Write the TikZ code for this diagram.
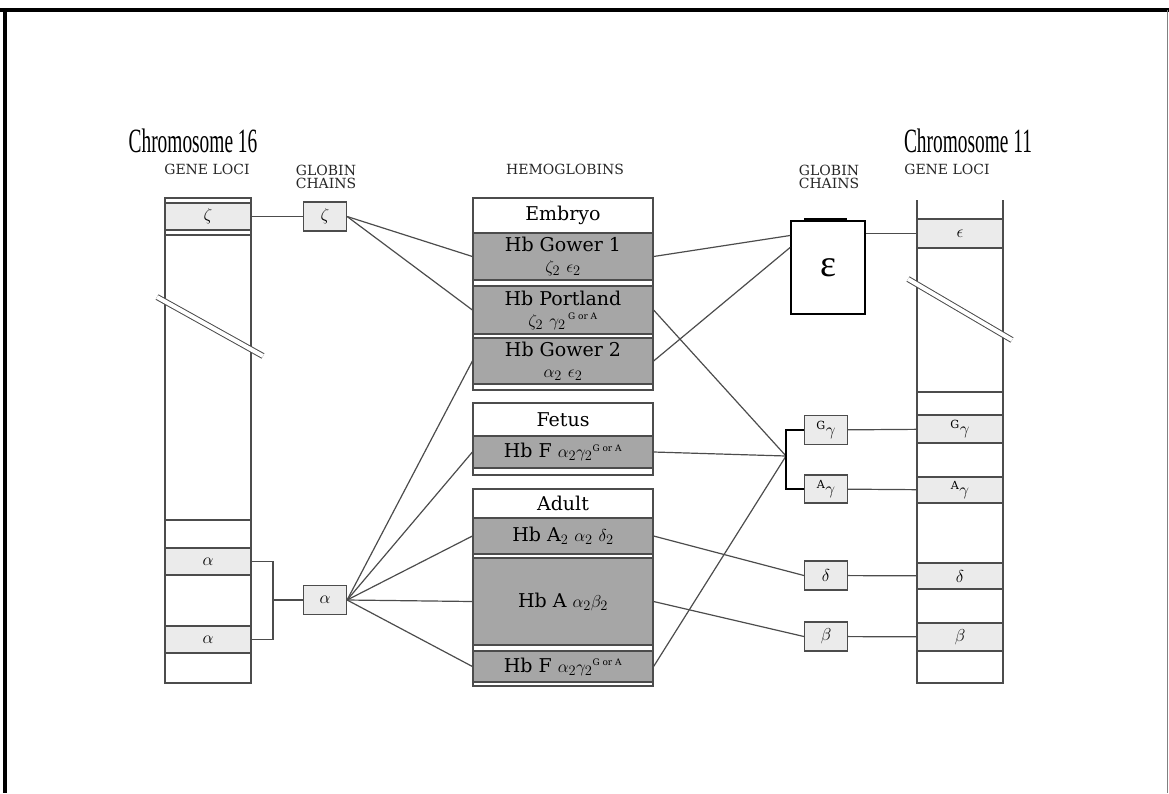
\documentclass[tikz,border=0pt]{standalone}
\usepackage{fontspec}
\setmainfont{DejaVu Serif}
\newfontfamily\chromfont{Liberation Serif}
\usepackage{tikz}
\newcommand{\gora}{\mbox{\fontsize{9}{9}\selectfont G or A}}

\begin{document}
\begin{tikzpicture}[x=1pt,y=-1pt,
    ln/.style={draw=black!70,line width=1.2pt},
    locus/.style={ln,fill=black!8,minimum width=86,minimum height=27,inner sep=0pt,font=\fontsize{16}{18}\selectfont},
    chain/.style={ln,fill=black!8,minimum width=43,minimum height=29,inner sep=0pt,font=\fontsize{16}{18}\selectfont},
    hb/.style={ln,fill=black!35,minimum width=180,inner sep=0pt,align=center,font=\fontsize{19}{21}\selectfont},
    head/.style={ln,fill=white,minimum width=180,inner sep=0pt,font=\fontsize{19}{21}\selectfont},
    lbl/.style={font=\fontsize{14}{13}\selectfont,align=center,text=black!85},
    brk/.style={draw=black!70,line width=1pt,double=white,double distance=4pt},
    chrom/.style={font=\chromfont\fontsize{34}{36}\selectfont,xscale=0.57}]
  \useasboundingbox (0,0) rectangle (1169,793);
  % frame
  \draw[line width=4pt] (0,10) -- (1169,10);
  \draw[line width=4pt] (5,8) -- (5,793);
  \draw[black!50] (1167,10) -- (1167,793);
  % titles
  \node[chrom] (c16) at (193,141) {Chromosome 16};
  \node[chrom] (c11) at (968,141) {Chromosome 11};
  \node[lbl] (gl1) at (207,169) {GENE LOCI};
  \node[lbl,anchor=north] (gc1) at (326,162) {GLOBIN\\CHAINS};
  \node[lbl] (hg) at (565,169) {HEMOGLOBINS};
  \node[lbl,anchor=north] (gc2) at (829,162) {GLOBIN\\CHAINS};
  \node[lbl] (gl2) at (947,169) {GENE LOCI};
  % chromosome 16
  \draw[ln] (165,198) rectangle (251,683);
  \draw[ln] (165,235) -- (251,235);
  \draw[ln] (165,520) -- (251,520);
  \draw[brk] (157,297) -- (263,356);
  \node[locus] (zl) at (208,216.5) {$\zeta$};
  \node[locus] (al1) at (208,561.5) {$\alpha$};
  \node[locus] (al2) at (208,639.5) {$\alpha$};
  % chromosome 11
  \draw[ln] (917,200) -- (917,683) -- (1003,683) -- (1003,200);
  \draw[ln] (917,392) -- (1003,392);
  \draw[brk] (908,279) -- (1012,340);
  \node[locus,minimum height=29] (el) at (960,233.5) {$\epsilon$};
  \node[locus,minimum height=28] (gGl) at (960,429) {$^{\mathrm{G}}\gamma$};
  \node[locus,minimum height=26] (aGl) at (960,490) {$^{\mathrm{A}}\gamma$};
  \node[locus,minimum height=26] (dl) at (960,576) {$\delta$};
  \node[locus,minimum height=28] (bl) at (960,637) {$\beta$};
  % globin chains
  \node[chain] (zc) at (325,216.5) {$\zeta$};
  \node[chain] (ac) at (325,600) {$\alpha$};
  \draw[line width=2pt] (804,219) -- (847,219);
  \node[draw,line width=1.8pt,fill=white,minimum width=74,minimum height=93,inner sep=0pt,
    font=\chromfont\fontsize{38}{40}\selectfont] (ec) at (828,267.5) {ε};
  \node[chain] (gGc) at (826,430) {$^{\mathrm{G}}\gamma$};
  \node[chain,minimum height=28] (aGc) at (826,489) {$^{\mathrm{A}}\gamma$};
  \node[chain] (dc) at (826,575.5) {$\delta$};
  \node[chain] (bc) at (826,636.5) {$\beta$};
  \coordinate (ab) at (273,600);
  \coordinate (gj) at (786,456);
  % hemoglobins
  \draw[ln] (473,198) rectangle (653,390);
  \node[head,minimum height=35] (emb) at (563,215.5) {Embryo};
  \node[hb,minimum height=47] (g1) at (563,256.5) {Hb Gower 1\\$\zeta_2\ \epsilon_2$};
  \node[hb,minimum height=48] (pl) at (563,310) {Hb Portland\\$\zeta_2\ \gamma_2{}^{\,\gora}$};
  \node[hb,minimum height=46] (g2) at (563,361) {Hb Gower 2\\$\alpha_2\ \epsilon_2$};
  \draw[ln] (473,403) rectangle (653,475);
  \node[head,minimum height=33] (fet) at (563,419.5) {Fetus};
  \node[hb,minimum height=32] (hf) at (563,452) {Hb F $\alpha_2\gamma_2{}^{\gora}$};
  \draw[ln] (473,489) rectangle (653,686);
  \node[head,minimum height=29] (adu) at (563,503.5) {Adult};
  \node[hb,minimum height=36] (ha2) at (563,536) {Hb A$_2$ $\alpha_2\ \delta_2$};
  \node[hb,minimum height=87] (ha) at (563,601.5) {Hb A $\alpha_2\beta_2$};
  \node[hb,minimum height=31] (hf2) at (563,666.5) {Hb F $\alpha_2\gamma_2{}^{\gora}$};
  % connectors, left
  \draw[ln] (zl) -- (zc);
  \draw[ln] (al1.east) -| (ab) |- (al2.east);
  \draw[ln] (ab) -- (ac);
  \draw[ln] (zc.east) -- (g1.west);
  \draw[ln] (zc.east) -- (pl.west);
  \foreach \h in {g2,hf,ha2,ha,hf2}
    \draw[ln] (ac.east) -- (\h.west);
  % connectors, right
  \draw[ln] (g1.east) -- ([yshift=32pt]ec.west);
  \draw[ln] (g2.east) -- ([yshift=20pt]ec.west);
  \draw[ln] (el.west -| ec.east) -- (el.west);
  \foreach \h in {pl,hf,hf2}
    \draw[ln] (\h.east) -- (gj);
  \draw[ln,draw=black] (gGc.west) -| (gj) |- (aGc.west);
  \draw[ln] (ha2.east) -- (dc.west);
  \draw[ln] (ha.east) -- (bc.west);
  \draw[ln] (gGc) -- (gGl);
  \draw[ln] (aGc) -- (aGl);
  \draw[ln] (dc) -- (dl);
  \draw[ln] (bc) -- (bl);
\end{tikzpicture}
\end{document}
